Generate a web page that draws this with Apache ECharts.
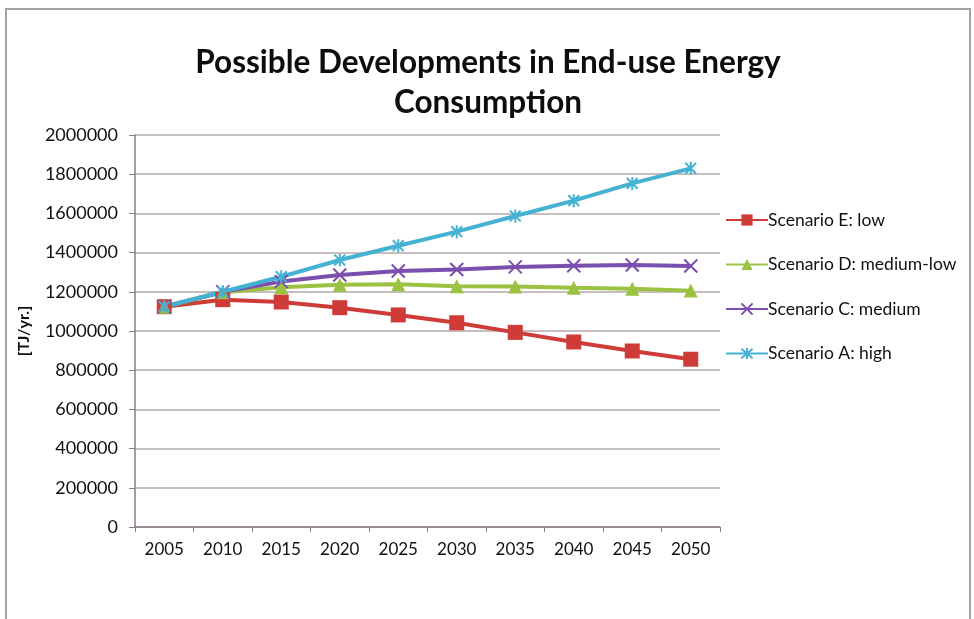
<!DOCTYPE html>
<html>
<head>
<meta charset="utf-8">
<script src="https://cdn.jsdelivr.net/npm/echarts@6/dist/echarts.min.js"></script>
<style>
html,body{margin:0;padding:0;background:#fff;}
#wrap{position:relative;width:974px;height:619px;overflow:hidden;background:#fff;}
#frame{position:absolute;left:5px;top:8px;width:966px;height:700px;border:2px solid #a3a3a3;box-sizing:border-box;}
#chart{position:absolute;left:0;top:0;width:974px;height:619px;}
</style>
</head>
<body>
<div id="wrap"><div id="frame"></div><div id="chart"></div></div>
<script>
const categories = ['2005','2010','2015','2020','2025','2030','2035','2040','2045','2050'];
const scenarioE = [1124000,1160000,1148000,1119000,1082000,1042000,993000,944000,898000,856000];
const scenarioD = [1124000,1198000,1223000,1236000,1238000,1228000,1227000,1221000,1216000,1206000];
const scenarioC = [1124000,1200000,1252000,1286000,1306000,1314000,1327000,1333000,1337000,1332000];
const scenarioA = [1124000,1200000,1277000,1362000,1435000,1507000,1587000,1665000,1753000,1830000];
const seriesNames = ['Scenario E: low','Scenario D: medium-low','Scenario C: medium','Scenario A: high'];
const yTicks = {min:0, max:2000000, interval:200000};

const FONT = 'Lato';
const xPath = 'path://M0,0L10,10M10,0L0,10';
const starPath = 'path://M0,0L10,10M10,0L0,10M5,-1L5,11';

const chart = echarts.init(document.getElementById('chart'), null, {renderer:'canvas'});
function mk(name, data, color, symbol, size, stroke){
  const s = {
    name, type:'line', data, color,
    symbol, symbolSize:size,
    lineStyle:{width:4, color},
    showAllSymbol:true,
    z: 2
  };
  if(stroke){
    s.itemStyle = {color:'rgba(0,0,0,0)', borderColor:color, borderWidth:2};
    s.symbolKeepAspect = true;
  } else {
    s.itemStyle = {color, borderWidth:0};
  }
  return s;
}
chart.setOption({
  animation:false,
  textStyle:{fontFamily:FONT},
  title:{
    text:'Possible Developments in End-use Energy\nConsumption',
    left:483, textAlign:'center', top:38,
    textStyle:{fontFamily:FONT, fontSize:31.5, fontWeight:'bold', color:'#0d0d0d', lineHeight:40}
  },
  legend:{
    orient:'vertical', left:720, top:206,
    itemWidth:42, itemHeight:14, itemGap:26.5,
    textStyle:{fontFamily:FONT, fontSize:17.5, color:'#111', padding:[0,0,0,-5]},
    data:seriesNames
  },
  grid:{left:135, right:254, top:135, bottom:92, containLabel:false},
  xAxis:{
    type:'category', data:categories, boundaryGap:true,
    axisLine:{lineStyle:{color:'#8a7f7f', width:1.5}},
    axisTick:{show:true, length:5, alignWithLabel:false, lineStyle:{color:'#8a7f7f'}},
    axisLabel:{fontFamily:FONT, fontSize:17, color:'#111', margin:14}
  },
  yAxis:{
    type:'value', min:yTicks.min, max:yTicks.max, interval:yTicks.interval,
    name:'[TJ/yr.]', nameLocation:'middle', nameGap:103, nameRotate:90,
    nameTextStyle:{fontFamily:FONT, fontSize:16, fontWeight:'bold', color:'#111'},
    axisLine:{show:true, lineStyle:{color:'#8a7f7f', width:1.5}},
    axisTick:{show:true, length:6, lineStyle:{color:'#8a7f7f'}},
    splitLine:{lineStyle:{color:'#b5aaaa', width:1.5}},
    axisLabel:{fontFamily:FONT, fontSize:18, color:'#111', margin:17, formatter:(v)=>String(v)}
  },
  series:[
    mk(seriesNames[0], scenarioE, '#cf3b37', 'rect', 15, false),
    mk(seriesNames[1], scenarioD, '#9bc241', 'triangle', 14, false),
    mk(seriesNames[2], scenarioC, '#7b4fae', xPath, 13, true),
    mk(seriesNames[3], scenarioA, '#45b1d3', starPath, 13, true)
  ]
});
</script>
</body>
</html>
